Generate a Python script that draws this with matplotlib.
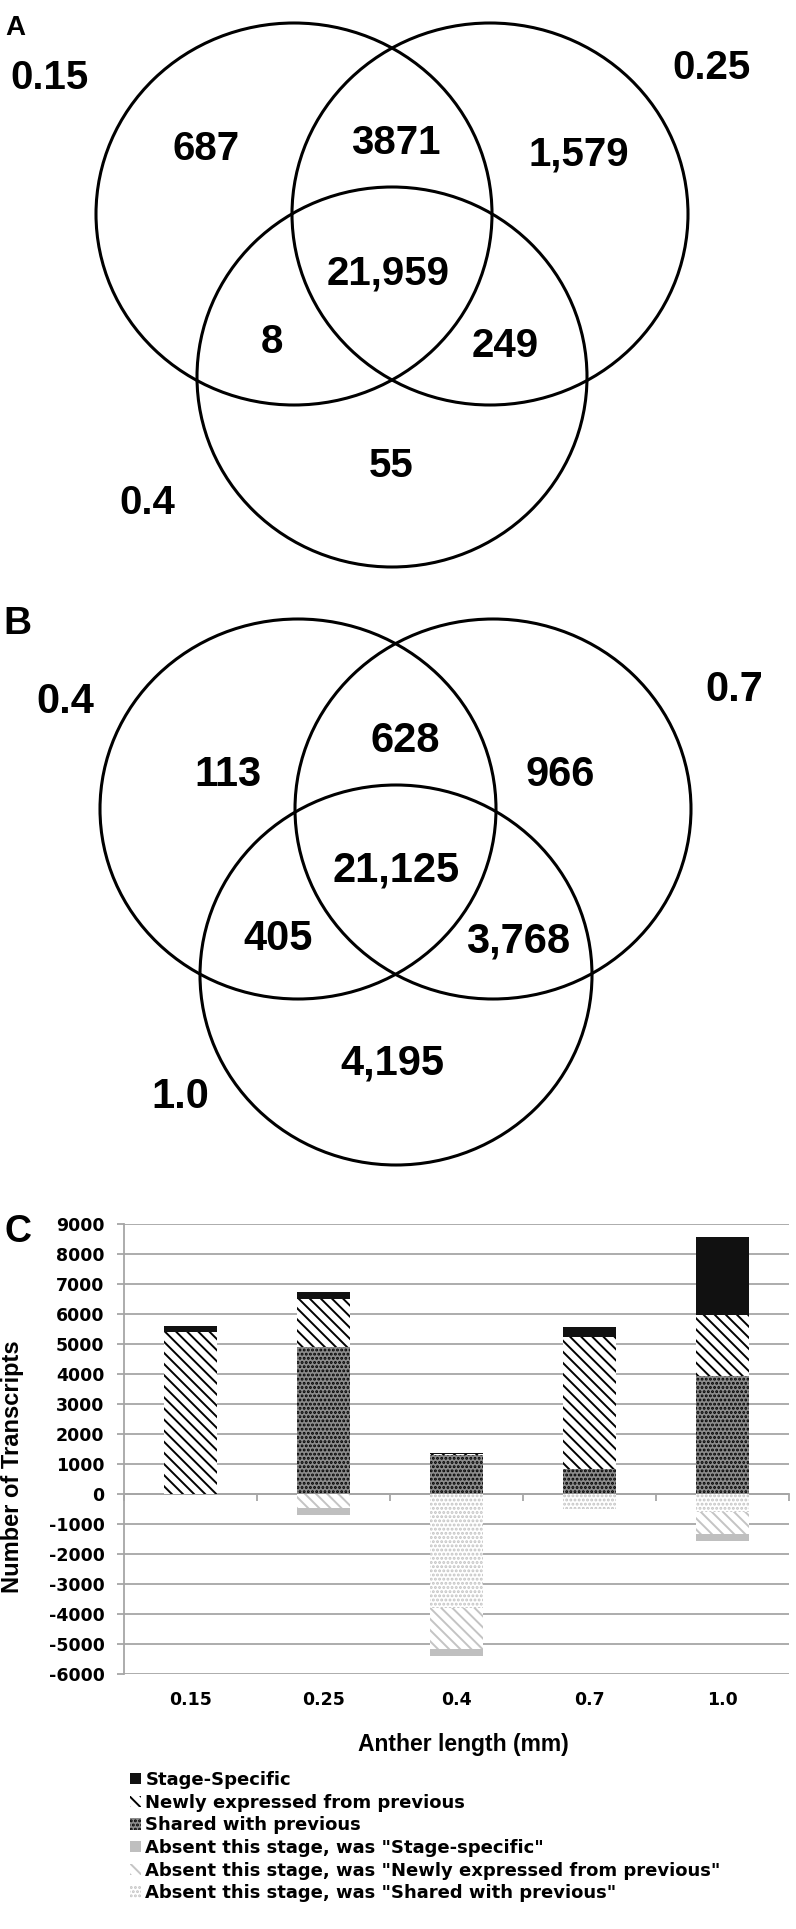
import matplotlib
matplotlib.use("Agg")
import matplotlib.pyplot as plt
from matplotlib.patches import Ellipse
from matplotlib.ticker import FuncFormatter

plt.rcParams["axes.unicode_minus"] = False
plt.rcParams["hatch.linewidth"] = 1.4

# ---------------- data ----------------
# Venn A (stages 0.15, 0.25, 0.4)
venn_a_sets = ["0.15", "0.25", "0.4"]
venn_a_regions = ["100", "110", "010", "111", "101", "011", "001"]
venn_a_counts = ["687", "3871", "1,579", "21,959", "8", "249", "55"]

# Venn B (stages 0.4, 0.7, 1.0)
venn_b_sets = ["0.4", "0.7", "1.0"]
venn_b_regions = ["100", "110", "010", "111", "101", "011", "001"]
venn_b_counts = ["113", "628", "966", "21,125", "405", "3,768", "4,195"]

# Bar chart C
categories = ["0.15", "0.25", "0.4", "0.7", "1.0"]
shared = [0, 4910, 1290, 850, 3950]
newly = [5390, 1580, 50, 4390, 2020]
specific = [220, 250, 40, 340, 2600]
absent_shared = [0, 0, 3810, 510, 590]
absent_newly = [0, 475, 1340, 0, 740]
absent_specific = [0, 220, 240, 0, 250]
legend_labels = [
    "Stage-Specific",
    "Newly expressed from previous",
    "Shared with previous",
    'Absent this stage, was "Stage-specific"',
    'Absent this stage, was "Newly expressed from previous"',
    'Absent this stage, was "Shared with previous"',
]

# ---------------- layout ----------------
W, H = 796, 1929
fig = plt.figure(figsize=(W / 100, H / 100), dpi=100)

SANS = ["Liberation Sans", "DejaVu Sans"]
WIDE = ["DejaVu Sans"]

# overlay axes in pixel coordinates for the Venn diagrams
ov = fig.add_axes([0, 0, 1, 1])
ov.set_xlim(0, W)
ov.set_ylim(H, 0)
ov.axis("off")


def ptext(x, y, s, size, family=SANS, ha="center"):
    # y = visual vertical centre of digits/caps
    base = y + 0.358 * size * 100 / 72
    ov.text(x, base, s, fontsize=size, fontweight="bold", family=family,
            ha=ha, va="baseline")


def venn(circles, set_labels, set_pos, counts, count_pos, size):
    for (cx, cy, rx, ry) in circles:
        ov.add_patch(Ellipse((cx, cy), 2 * rx, 2 * ry, fill=False,
                             lw=2.2, ec="black"))
    for lab, (x, y) in zip(set_labels, set_pos):
        ptext(x, y, lab, size)
    for c, (x, y) in zip(counts, count_pos):
        ptext(x, y, c, size)


# Venn A geometry
circ_a = [(294, 214, 198, 191), (490, 214, 198, 191), (392, 377, 195, 190)]
set_pos_a = [(50, 75), (711, 65), (147, 500)]
cnt_pos_a = [(206, 146), (396, 140), (579, 151), (388, 270),
             (272, 339), (505, 343), (391, 463)]
venn(circ_a, venn_a_sets, set_pos_a, venn_a_counts, cnt_pos_a, 29)
ptext(5, 25, "A", 20, ha="left")

# Venn B geometry
circ_b = [(298, 809, 198, 190), (493, 809, 198, 190), (396, 975, 196, 190)]
set_pos_b = [(65, 698), (734, 686), (180, 1093)]
cnt_pos_b = [(228, 771), (405, 737), (560, 771), (396, 867),
             (278, 935), (518, 938), (392, 1060)]
venn(circ_b, venn_b_sets, set_pos_b, venn_b_counts, cnt_pos_b, 30)
ptext(3, 620, "B", 28, ha="left")

# ---------------- bar chart C ----------------
ax_l, ax_r, ax_t, ax_b = 124, 789, 1224, 1674
ax = fig.add_axes([ax_l / W, 1 - ax_b / H, (ax_r - ax_l) / W, (ax_b - ax_t) / H])
x = list(range(len(categories)))
bw = 0.4
GRID = "#a6a6a6"
LIGHT = "#c4c4c4"
DOTS = "...."
STRIPES = "\\\\\\"

b_shared = ax.bar(x, shared, bw, color="#8c8c8c", edgecolor="black", hatch=DOTS, lw=0)
bot = list(shared)
b_newly = ax.bar(x, newly, bw, bottom=bot, color="white", edgecolor="black",
                 hatch=STRIPES, lw=0)
bot = [a + b for a, b in zip(bot, newly)]
b_spec = ax.bar(x, specific, bw, bottom=bot, color="#111111", lw=0)

neg1 = [-v for v in absent_shared]
b_ash = ax.bar(x, neg1, bw, color="white", edgecolor=LIGHT, hatch=DOTS, lw=0)
neg2 = [-v for v in absent_newly]
b_anw = ax.bar(x, neg2, bw, bottom=neg1, color="white", edgecolor=LIGHT,
               hatch=STRIPES, lw=0)
bot2 = [a + b for a, b in zip(neg1, neg2)]
b_asp = ax.bar(x, [-v for v in absent_specific], bw, bottom=bot2,
               color="#bfbfbf", lw=0)

ax.set_xlim(-0.5, 4.5)
ymin, ymax = -6000, 9000
ax.set_ylim(ymin, ymax)
ax.set_yticks(range(ymin, ymax + 1, 1000))
ax.yaxis.set_major_formatter(FuncFormatter(lambda v, p: str(int(v))))
ax.yaxis.grid(True, color=GRID, lw=1.3)
ax.set_axisbelow(True)
for s in ["top", "right", "bottom"]:
    ax.spines[s].set_visible(False)
ax.spines["left"].set_color(GRID)
ax.spines["left"].set_linewidth(1.3)
ax.tick_params(axis="y", length=5, width=1.3, color=GRID, pad=9,
               labelsize=12.5)
ax.set_xticks(x)
ax.set_xticklabels(categories)
ax.tick_params(axis="x", length=0, pad=12, labelsize=12.5)
for lab in ax.get_xticklabels() + ax.get_yticklabels():
    lab.set_fontweight("bold")
    lab.set_family(WIDE)

# category axis crossing at zero
zero_frac = (0 - ymin) / (ymax - ymin)
sec = ax.secondary_xaxis(zero_frac)
sec.set_xticks([i + 0.5 for i in range(-1, len(categories))])
sec.set_xticklabels([])
sec.tick_params(axis="x", length=5, width=1.3, color=GRID, direction="out")
sec.spines["bottom"].set_color(GRID)
sec.spines["bottom"].set_linewidth(1.3)

fig.text(18 / W, 1 - 1232 / H, "C", fontsize=27, fontweight="bold",
         family=SANS, ha="center", va="center")
fig.text(13 / W, 1 - 1467 / H, "Number of Transcripts", rotation=90,
         fontsize=17, fontweight="bold", family=SANS, ha="center", va="center")
fig.text(463 / W, 1 - 1745 / H, "Anther length (mm)", fontsize=16.5,
         fontweight="bold", family=SANS, ha="center", va="center")

handles = [b_spec[0], b_newly[0], b_shared[0], b_asp[0], b_anw[0], b_ash[0]]
leg = fig.legend(handles, legend_labels, loc="upper left",
                 bbox_to_anchor=(130 / W, 1 - 1771 / H), frameon=False,
                 prop={"family": WIDE, "weight": "bold", "size": 13},
                 handlelength=0.6, handleheight=0.6, handletextpad=0.25,
                 labelspacing=0.26, borderaxespad=0, borderpad=0)

fig.savefig("out.png", dpi=100)
